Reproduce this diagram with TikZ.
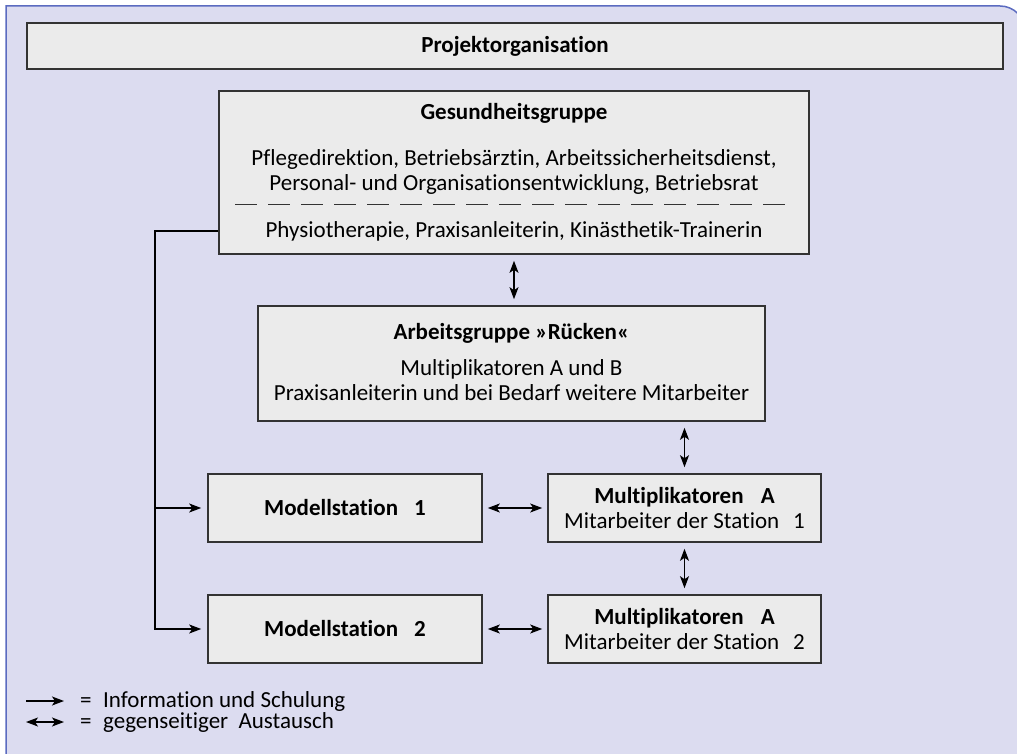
\documentclass[tikz,border=0pt]{standalone}
\usepackage{fontspec}
\setmainfont{Carlito}[Ligatures=NoCommon]
\usepackage{tikz}
\usetikzlibrary{arrows.meta,positioning}
\definecolor{panelbg}{HTML}{DCDCF0}
\definecolor{panelline}{HTML}{5B6BC0}
\definecolor{boxbg}{HTML}{EBEBEB}
\definecolor{boxline}{HTML}{333333}
\newcommand{\dsize}{\fontsize{23}{25}\selectfont}

\begin{document}
\begin{tikzpicture}[x=1pt,y=-1pt,
    box/.style={draw=boxline,fill=boxbg,line width=1.6pt,rectangle,inner sep=0pt},
    txt/.style={font=\dsize,inner sep=0pt,align=center},
    head/.style={font=\dsize\bfseries,inner sep=0pt,align=center},
    info/.style={line width=1.3pt,-{Stealth[length=12pt,width=9pt,inset=3pt]}},
    both/.style={line width=1.3pt,{Stealth[length=12pt,width=9pt,inset=3pt]}-{Stealth[length=12pt,width=9pt,inset=3pt]},shorten <=6pt,shorten >=6pt}]
  \useasboundingbox (0,0) rectangle (1017,754);

  % Panel
  \fill[panelbg] (6,6) -- (1000,6) arc[start angle=-90,end angle=0,radius=25] -- (1025,770) -- (6,770) -- cycle;
  \draw[panelline,line width=1.5pt] (6,770) -- (6,6) -- (1000,6) arc[start angle=-90,end angle=0,radius=25] -- (1025,770);

  % Boxes
  \node[box,head,minimum width=976pt,minimum height=46pt] (proj) at (515,46) {Projektorganisation};

  \node[box,minimum width=590pt,minimum height=163pt] (gesund) at (514,172.5) {};
  \node[head] (gesundT) at (514,113) {Gesundheitsgruppe};
  \node[txt] (gesundA) at (514,171.5) {Pflegedirektion, Betriebsärztin, Arbeitssicherheitsdienst,\\Personal- und Organisationsentwicklung, Betriebsrat};
  \draw[boxline,line width=1pt,dash pattern=on 22pt off 11pt] (235,205) -- (795,205);
  \node[txt] (gesundB) at (514,231) {Physiotherapie, Praxisanleiterin, Kinästhetik-Trainerin};

  \node[box,minimum width=507pt,minimum height=115pt] (arbeit) at (511.5,363.5) {};
  \node[head] (arbeitT) at (511.5,333) {Arbeitsgruppe »Rücken«};
  \node[txt] (arbeitA) at (511.5,380) {Multiplikatoren A und B\\Praxisanleiterin und bei Bedarf weitere Mitarbeiter};

  \node[box,head,minimum width=274pt,minimum height=68pt] (mod1) at (345,508) {Modellstation\hspace{.7em}1};
  \node[box,txt,minimum width=273pt,minimum height=68pt] (mult1) at (684.5,508) {\textbf{Multiplikatoren\hspace{.75em}A}\\Mitarbeiter der Station\hspace{.6em}1};
  \node[box,head,minimum width=274pt,minimum height=68pt] (mod2) at (345,629) {Modellstation\hspace{.7em}2};
  \node[box,txt,minimum width=273pt,minimum height=68pt] (mult2) at (684.5,629) {\textbf{Multiplikatoren\hspace{.75em}A}\\Mitarbeiter der Station\hspace{.6em}2};

  % Connectors
  \draw[both] (gesund.south) -- (gesund.south |- arbeit.north);
  \draw[both] (mult1.north |- arbeit.south) -- (mult1.north);
  \draw[both] (mult1.south) -- (mult2.north);
  \draw[both,shorten <=5pt,shorten >=5pt] (mod1.east) -- (mult1.west);
  \draw[both,shorten <=5pt,shorten >=5pt] (mod2.east) -- (mult2.west);

  \coordinate (split) at (155,231);
  \draw[info,shorten >=6pt] (gesund.west |- gesundB) -- (split) |- (mod2.west);
  \draw[info,shorten >=6pt] (split |- mod1.west) -- (mod1.west);

  % Legend
  \coordinate (legA) at (26,701);
  \coordinate (legB) at (64,701);
  \coordinate (legC) at (26,722);
  \coordinate (legD) at (64,722);
  \draw[info] (legA) -- (legB);
  \draw[both,shorten <=0pt,shorten >=0pt] (legC) -- (legD);
  \node[txt,anchor=west] (legInfo) at (80,701) {=\hspace{.5em}Information und Schulung};
  \node[txt,anchor=west] (legBoth) at (80,722) {=\hspace{.5em}gegenseitiger\hspace{.45em}Austausch};
\end{tikzpicture}
\end{document}
